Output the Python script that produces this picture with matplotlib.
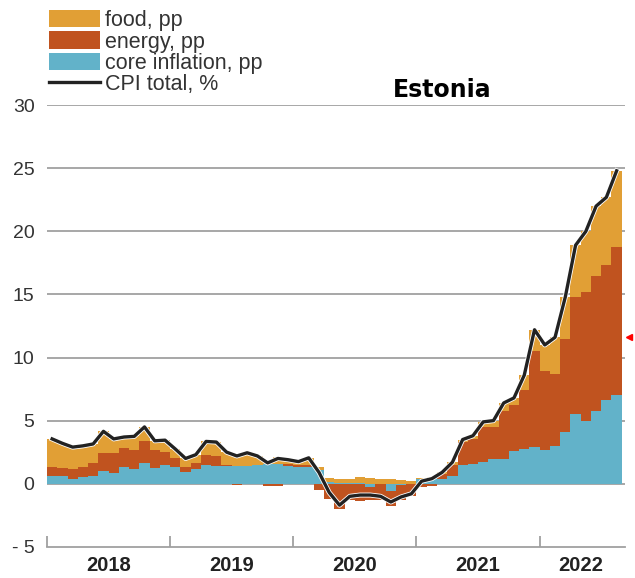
import numpy as np
import matplotlib
matplotlib.use("Agg")
import matplotlib.pyplot as plt
import matplotlib.patheffects as pe

plt.rcParams["font.family"] = ["Liberation Sans", "DejaVu Sans"]

# monthly data, Jan 2018 - Aug 2022
core = [0.6, 0.6, 0.4, 0.5, 0.65, 1.0, 0.85, 1.3, 1.2, 1.65, 1.25, 1.45,
        1.3, 0.9, 1.15, 1.45, 1.4, 1.4, 1.4, 1.4, 1.45, 1.55, 1.6, 1.4,
        1.35, 1.3, 1.05, 0.1, 0.05, 0.05, 0.05, -0.3, 0.0, -0.6, -0.1, -0.05,
        0.35, 0.45, 0.4, 0.65, 1.5, 1.6, 1.75, 1.95, 1.95, 2.6, 2.75, 2.9,
        2.7, 2.95, 4.1, 5.5, 5.0, 5.8, 6.6, 7.0]
energy = [0.75, 0.65, 0.8, 0.8, 1.0, 1.45, 1.6, 1.5, 1.45, 1.75, 1.45, 1.1,
          0.7, 0.45, 0.5, 0.85, 0.8, 0.05, -0.1, 0.0, 0.0, -0.2, -0.2, 0.15,
          0.1, 0.15, -0.5, -1.2, -2.0, -1.3, -1.4, -1.0, -1.3, -1.2, -1.2, -0.9,
          -0.25, -0.15, 0.4, 0.8, 1.8, 1.95, 2.75, 2.55, 3.85, 3.6, 4.65, 7.6,
          6.25, 5.75, 7.35, 9.3, 10.2, 10.7, 10.7, 11.75]
food = [2.2, 1.95, 1.7, 1.7, 1.5, 1.7, 1.1, 0.9, 1.1, 1.1, 0.7, 0.9,
        0.75, 0.65, 0.65, 1.05, 1.1, 1.05, 0.8, 1.0, 0.75, 0.3, 0.5, 0.35,
        0.3, 0.6, 0.3, 0.35, 0.3, 0.35, 0.5, 0.45, 0.35, 0.35, 0.3, 0.2,
        0.1, 0.1, 0.1, 0.25, 0.2, 0.25, 0.4, 0.5, 0.6, 0.6, 1.2, 1.7,
        2.05, 2.9, 3.35, 4.1, 4.8, 5.5, 5.4, 6.05]
cpi = [3.55, 3.2, 2.9, 3.0, 3.15, 4.15, 3.55, 3.7, 3.75, 4.5, 3.4, 3.45,
       2.75, 2.0, 2.3, 3.35, 3.3, 2.5, 2.2, 2.45, 2.2, 1.65, 2.0, 1.9,
       1.75, 2.05, 0.9, -0.7, -1.7, -1.0, -0.9, -0.9, -1.0, -1.45, -1.05, -0.8,
       0.2, 0.4, 0.9, 1.7, 3.5, 3.8, 4.9, 5.0, 6.4, 6.8, 8.6, 12.2,
       11.0, 11.6, 14.8, 18.9, 20.0, 22.0, 22.7, 24.8]
years = ["2018", "2019", "2020", "2021", "2022"]
series = [("core inflation, pp", core, "#62b2c9"),
          ("energy, pp", energy, "#c0531f"),
          ("food, pp", food, "#e19f35")]

x = np.arange(len(cpi))

fig = plt.figure(figsize=(6.35, 5.78), dpi=100)
ax = fig.add_axes([0.074, 0.054, 0.91, 0.764])

pos_base = np.zeros(len(x))
neg_base = np.zeros(len(x))
handles = {}
for name, vals, col in series:
    v = np.array(vals)
    base = np.where(v >= 0, pos_base, neg_base)
    b = ax.bar(x, v, bottom=base, width=1.0, color=col, linewidth=0, zorder=2)
    handles[name] = b
    pos_base += np.where(v >= 0, v, 0)
    neg_base += np.where(v < 0, v, 0)

line, = ax.plot(x, cpi, color="#222222", lw=2.4, zorder=4,
                path_effects=[pe.Stroke(linewidth=3.6, foreground="white"), pe.Normal()])

ax.set_xlim(-0.5, 55.8)
ax.set_ylim(-5, 30)
ax.set_yticks(range(-5, 31, 5))
ax.set_yticklabels(["- 5"] + [str(v) for v in range(0, 31, 5)])
for yv in range(0, 31, 5):
    ax.axhline(yv, color="#a0a0a0", lw=1.3, zorder=1)

for s in ["top", "right", "left"]:
    ax.spines[s].set_visible(False)
ax.spines["bottom"].set_color("#a0a0a0")
ax.spines["bottom"].set_linewidth(1.3)

ax.set_xticks([-0.5, 11.5, 23.5, 35.5, 47.5])
ax.set_xticklabels([])
ax.tick_params(axis="x", direction="in", length=8, width=1.3, color="#a0a0a0")
ax.tick_params(axis="y", length=0, labelsize=14, labelcolor="#333333", pad=9)

centers = [5.5, 17.5, 29.5, 41.5, 51.5]
for c, yr in zip(centers, years):
    ax.text(c, -5.75, yr, ha="center", va="top", fontsize=14.5,
            fontweight="bold", color="#222222")

fig.text(0.697, 0.845, "Estonia", ha="center", va="center", fontsize=17,
         fontweight="bold", family="DejaVu Sans", color="black")

fig.legend([handles["food, pp"], handles["energy, pp"],
            handles["core inflation, pp"], line],
           ["food, pp", "energy, pp", "core inflation, pp", "CPI total, %"],
           loc="upper left", bbox_to_anchor=(49 / 635, 1 - 10 / 578), frameon=False,
           fontsize=15.5, handlelength=2.35, handleheight=0.85,
           labelspacing=0.02, handletextpad=0.25, borderaxespad=0,
           borderpad=0, labelcolor="#333333")

ax.plot([1.008], [0.475], marker="<", color="red", markersize=5,
        transform=ax.transAxes, clip_on=False)

fig.savefig("out.png", dpi=100)
